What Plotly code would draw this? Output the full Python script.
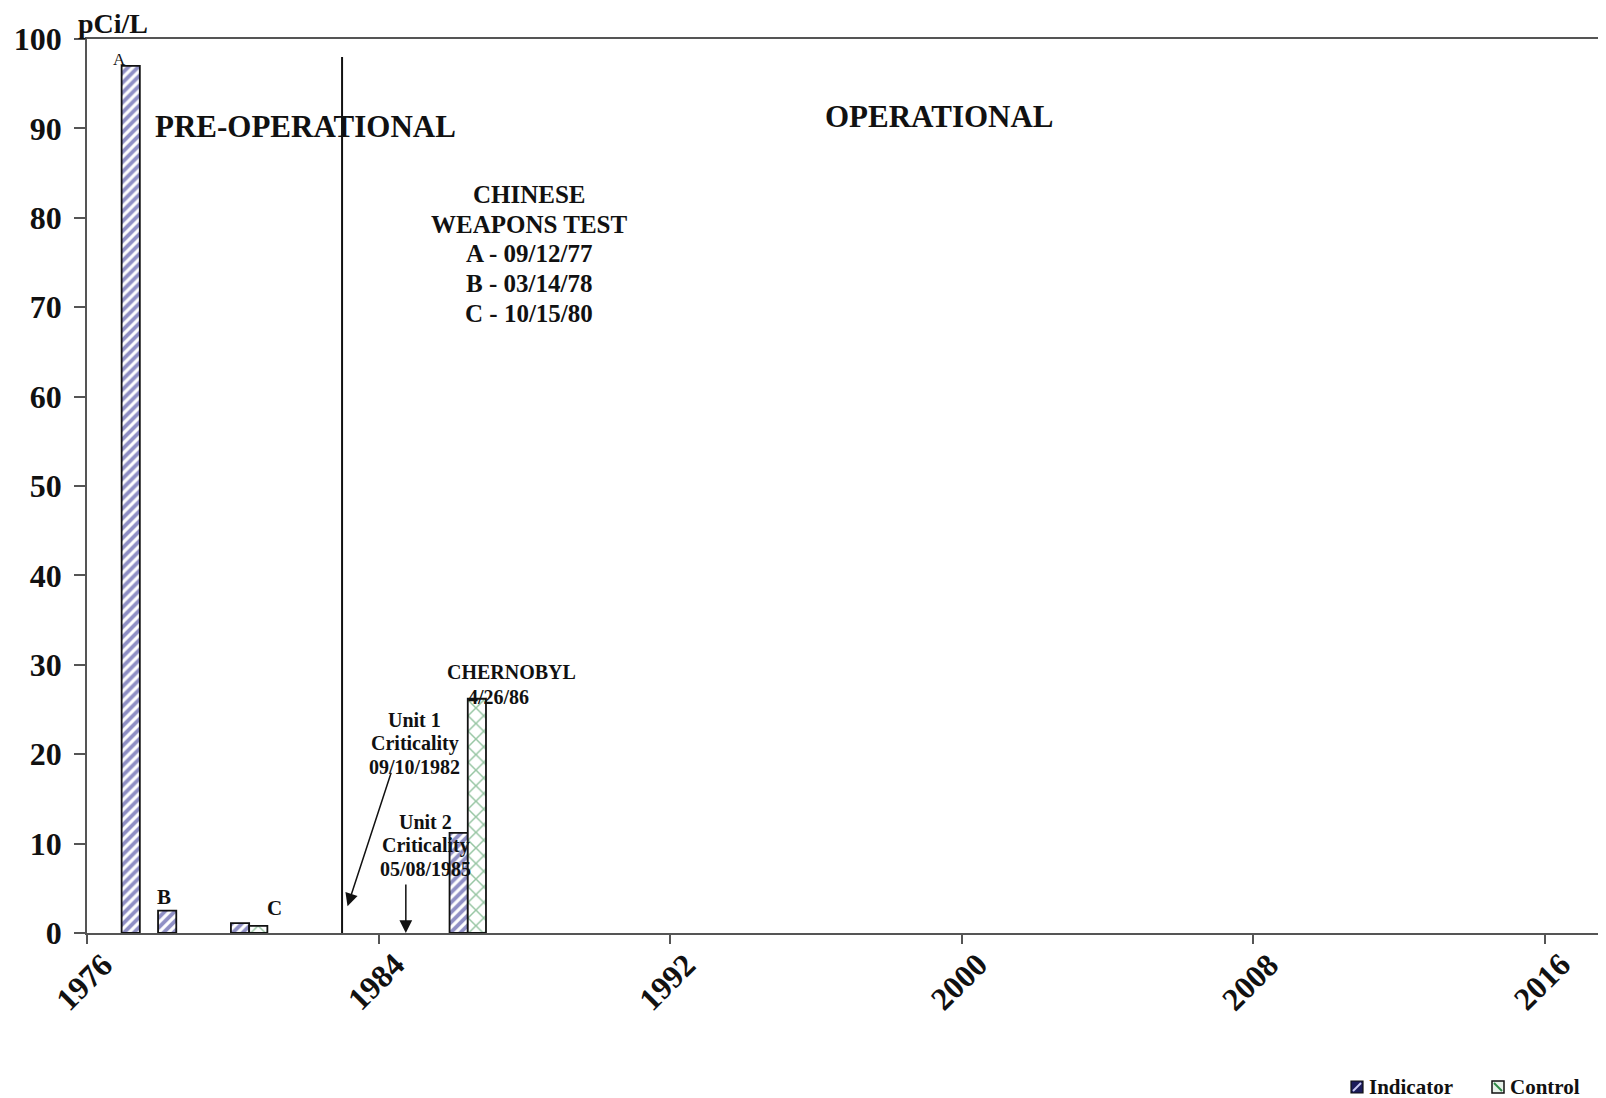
import plotly.graph_objects as go

# ---- data ----
years = [1977, 1978, 1980, 1986]
indicator = [97.0, 2.5, 1.1, 11.2]
control = [None, None, 0.8, 26.2]
x_ticks = [1976, 1984, 1992, 2000, 2008, 2016]
y_ticks = [0, 10, 20, 30, 40, 50, 60, 70, 80, 90, 100]
ops_start = 1983
ops_line_top = 98

FONT = "Liberation Serif, Times New Roman, serif"
W, H = 1598, 1090          # page body has an 8px margin
L, R, T, B = 79, 0, 31, 165
x0 = 1976
px_per_year = 291.5 / 8
x1 = x0 + (W - L - R) / px_per_year
PW = W - L - R
PH = H - T - B
OFF = 8  # body margin


def px_x(page_x):
    return (page_x - OFF - L) / PW


def px_y(page_y):
    return 1 - (page_y - OFF - T) / PH


IND_COLOR = "#20208a"
CTL_COLOR = "#2e8b46"

fig = go.Figure()
fig.add_trace(go.Bar(
    x=years, y=indicator, name="Indicator", width=0.5, offset=-0.05,
    marker=dict(color="white", line=dict(color="#111111", width=1.8),
                pattern=dict(shape="/", fgcolor=IND_COLOR, bgcolor="white",
                             size=7, solidity=0.55)),
    showlegend=False,
))
fig.add_trace(go.Bar(
    x=years, y=control, name="Control", width=0.5, offset=0.45,
    marker=dict(color="white", line=dict(color="#111111", width=1.8),
                pattern=dict(shape="x", fgcolor=CTL_COLOR, bgcolor="white",
                             size=11, solidity=0.25)),
    showlegend=False,
))

# operational start line
fig.add_shape(type="line", xref="x", yref="y", x0=ops_start, x1=ops_start,
              y0=0, y1=ops_line_top, line=dict(color="#111111", width=2))

annos = []
def txt(x, y, s, size, bold=True, xref="x", yref="y", xanchor="center", yanchor="middle", **kw):
    annos.append(dict(x=x, y=y, xref=xref, yref=yref, text=s, showarrow=False,
                      xanchor=xanchor, yanchor=yanchor,
                      font=dict(family=FONT, size=size, color="#111111",
                                weight="bold" if bold else "normal"), **kw))

# x tick labels, centered & rotated
for t in x_ticks:
    txt(t, 0, str(t), 32, yref="paper", yshift=-49, xshift=-3, textangle=-45)

txt(0, 1.0, "pCi/L", 28, xref="paper", yref="paper", xanchor="left",
    yanchor="middle", xshift=-10, yshift=16, borderpad=0)
txt(1976.9, 97.7, "A", 17, bold=False)
txt(1978.1, 4.0, "B", 21)
txt(1981.15, 2.75, "C", 21)
txt(1982.0, 90.2, "PRE-OPERATIONAL", 31)
txt(1999.4, 91.3, "OPERATIONAL", 31)

chinese = ["CHINESE", "WEAPONS TEST", "A - 09/12/77", "B - 03/14/78", "C - 10/15/80"]
for i, s in enumerate(chinese):
    txt(1988.14, 82.6 - i * 3.32, s, 25)

txt(1987.66, 29.2, "CHERNOBYL", 20)
txt(1987.3, 26.45, "4/26/86", 20)
for i, s in enumerate(["Unit 1", "Criticality", "09/10/1982"]):
    txt(1985.0, 23.8 - i * 2.63, s, 20)
for i, s in enumerate(["Unit 2", "Criticality", "05/08/1985"]):
    txt(1985.3, 12.37 - i * 2.63, s, 20)

# arrows
annos.append(dict(x=1983.15, y=3.0, ax=1984.36, ay=18.1, xref="x", yref="y",
                  axref="x", ayref="y", showarrow=True, text="",
                  arrowhead=2, arrowsize=1.7, arrowwidth=1.5, arrowcolor="#111111"))
annos.append(dict(x=1984.75, y=0, ax=1984.75, ay=5.6, xref="x", yref="y",
                  axref="x", ayref="y", showarrow=True, text="",
                  arrowhead=2, arrowsize=1.7, arrowwidth=1.5, arrowcolor="#111111"))

# ---- legend (drawn manually at the bottom right) ----
leg_items = [("Indicator", 1367), ("Control", 1508)]
leg_cy = 1087
for name, tx in leg_items:
    txt(px_x(tx), px_y(leg_cy), name, 21, xref="paper", yref="paper", xanchor="left")
# Indicator swatch: dark square with light diagonal
fig.add_shape(type="rect", xref="paper", yref="paper",
              x0=px_x(1351), x1=px_x(1363), y0=px_y(1093), y1=px_y(1081),
              fillcolor="#1c1c5a", line=dict(color="#111111", width=1.2))
fig.add_shape(type="line", xref="paper", yref="paper",
              x0=px_x(1353), x1=px_x(1361), y0=px_y(1091), y1=px_y(1083),
              line=dict(color="#c8c8f0", width=2))
# Control swatch: outlined square with green diagonal
fig.add_shape(type="rect", xref="paper", yref="paper",
              x0=px_x(1492), x1=px_x(1504), y0=px_y(1093), y1=px_y(1081),
              fillcolor="#e8f2ea", line=dict(color="#111111", width=1.5))
fig.add_shape(type="line", xref="paper", yref="paper",
              x0=px_x(1494), x1=px_x(1502), y0=px_y(1083), y1=px_y(1091),
              line=dict(color=CTL_COLOR, width=2))

fig.update_layout(
    width=W, height=H,
    margin=dict(l=L, r=R, t=T, b=B),
    paper_bgcolor="white", plot_bgcolor="white",
    barmode="overlay",
    annotations=annos,
    font=dict(family=FONT, size=20, color="#111111"),
    showlegend=False,
    xaxis=dict(range=[x0, x1], tickvals=x_ticks, showticklabels=False,
               ticks="outside", ticklen=9, tickcolor="#555555", tickwidth=1.5,
               showline=True, linecolor="#555555", linewidth=1.5, mirror=True,
               showgrid=False, zeroline=False),
    yaxis=dict(range=[0, 100], tickvals=y_ticks, ticks="outside", ticklen=11,
               tickcolor="#555555", tickwidth=1.5, showline=True,
               linecolor="#555555", linewidth=1.5, showgrid=False, zeroline=False,
               tickfont=dict(family=FONT, size=32, color="#111111", weight="bold"),
               ticklabelstandoff=6),
)

fig.write_html("out.html")
